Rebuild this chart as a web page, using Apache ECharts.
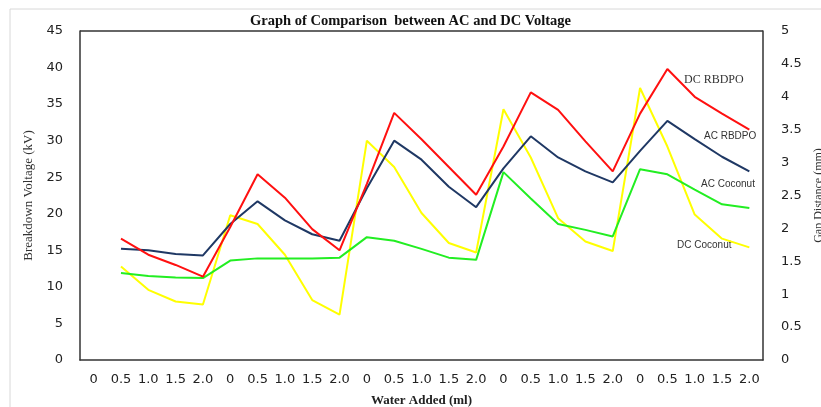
<!DOCTYPE html>
<html><head><meta charset="utf-8">
<script src="https://cdn.jsdelivr.net/npm/echarts@6/dist/echarts.min.js"></script>
<style>html,body{margin:0;padding:0;background:#fff}#c{width:821px;height:407px}</style>
</head><body><div id="c"></div>
<script>
var categories = ['0','0.5','1.0','1.5','2.0','0','0.5','1.0','1.5','2.0','0','0.5','1.0','1.5','2.0','0','0.5','1.0','1.5','2.0','0','0.5','1.0','1.5','2.0'];
var dcRBDPO   = [null,16.6,14.4,13.0,11.4,18.2,25.4,22.2,17.9,15.0,24.1,33.8,30.2,26.4,22.6,29.2,36.6,34.2,29.9,25.8,33.7,39.8,36.0,33.7,31.5];
var acRBDPO   = [null,15.2,15.0,14.5,14.3,18.6,21.7,19.1,17.2,16.3,23.5,30.0,27.4,23.7,20.9,26.2,30.6,27.7,25.8,24.3,28.6,32.7,30.2,27.8,25.8];
var acCoconut = [null,11.9,11.5,11.3,11.2,13.6,13.9,13.9,13.9,14.0,16.8,16.3,15.2,14.0,13.7,25.7,22.1,18.6,17.8,16.9,26.1,25.4,23.3,21.3,20.8];
var dcCoconut = [null,12.8,9.6,8.0,7.6,19.8,18.6,14.4,8.2,6.2,30.0,26.4,20.1,16.0,14.7,34.3,27.7,19.4,16.2,14.9,37.2,29.2,19.9,16.6,15.4];
var seriesNames = ['DC RBDPO','AC RBDPO','AC Coconut','DC Coconut'];

var chart = echarts.init(document.getElementById('c'));
var axisLabelStyle = {color:'#222', fontFamily:'DejaVu Sans', fontSize:13};
function line(name, data, color){
  return {name:name, type:'line', data:data, symbol:'none', yAxisIndex:0,
    lineStyle:{color:color, width:2}, itemStyle:{color:color}, connectNulls:false, animation:false};
}
chart.setOption({
  animation:false,
  title:{text:'Graph of Comparison  between AC and DC Voltage', left:'center', top:9,
    textStyle:{fontFamily:'Liberation Serif', fontSize:14.5, fontWeight:'bold', color:'#111'}},
  grid:{left:80, right:58, top:31, bottom:47, containLabel:false, outerBoundsMode:'none'},
  xAxis:{type:'category', data:categories, boundaryGap:true,
    axisLine:{lineStyle:{color:'#333', width:1.5}}, axisTick:{show:false},
    axisLabel:Object.assign({margin:13, interval:0}, axisLabelStyle),
    name:'Water Added (ml)', nameLocation:'middle', nameGap:34,
    nameTextStyle:{fontFamily:'Liberation Serif', fontSize:13, fontWeight:'bold', color:'#222'}},
  yAxis:[
    {type:'value', min:0, max:45, interval:5, splitLine:{show:false},
     axisLine:{show:true, lineStyle:{color:'#333', width:1.5}}, axisTick:{show:false},
     axisLabel:Object.assign({margin:17}, axisLabelStyle),
     name:'Breakdown Voltage (kV)', nameLocation:'middle', nameGap:42, nameRotate:90,
     nameTextStyle:{fontFamily:'Liberation Serif', fontSize:13, color:'#333'}},
    {type:'value', min:0, max:5, interval:0.5, splitLine:{show:false}, position:'right',
     axisLine:{show:true, lineStyle:{color:'#333', width:1.5}}, axisTick:{show:false},
     axisLabel:Object.assign({margin:18}, axisLabelStyle),
     name:'Gap Distance (mm)', nameLocation:'middle', nameGap:47, nameRotate:90,
     nameTextStyle:{fontFamily:'Liberation Serif', fontSize:12, color:'#333', padding:[0,0,0,0]}}
  ],
  series:[
    line(seriesNames[3], dcCoconut, '#ffff00'),
    line(seriesNames[2], acCoconut, '#22ee22'),
    line(seriesNames[1], acRBDPO, '#1f3864'),
    line(seriesNames[0], dcRBDPO, '#ff1010')
  ],
  graphic:[
    {type:'rect', shape:{x:10, y:9, width:830, height:420}, style:{fill:'none', stroke:'#d8d8d8', lineWidth:1}, silent:true},
    {type:'line', shape:{x1:80, y1:31, x2:763, y2:31}, style:{stroke:'#333', lineWidth:1.5}, silent:true},
    {type:'text', left:684, top:74, style:{text:seriesNames[0], fontFamily:'Liberation Serif', fontSize:12, fill:'#333'}},
    {type:'text', left:704, top:131, style:{text:seriesNames[1], fontFamily:'Liberation Sans', fontSize:10, fill:'#333'}},
    {type:'text', left:701, top:179, style:{text:seriesNames[2], fontFamily:'Liberation Sans', fontSize:10, fill:'#333'}},
    {type:'text', left:677, top:240, style:{text:seriesNames[3], fontFamily:'Liberation Sans', fontSize:10, fill:'#333'}}
  ]
});
</script></body></html>
